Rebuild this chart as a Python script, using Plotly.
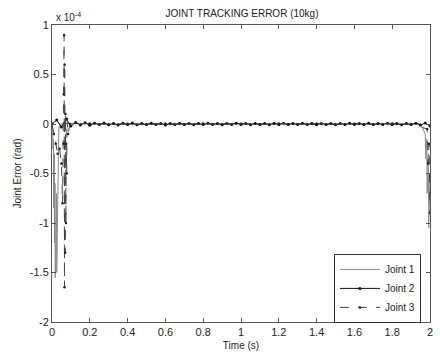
import plotly.graph_objects as go

# values in units of 1e-4 rad
t_joint1 = [0.000, 0.004, 0.005, 0.008, 0.009, 0.012, 0.013, 0.016, 0.017, 0.020,
            0.021, 0.024, 0.025, 0.028, 0.029, 0.032, 0.033, 0.036, 0.040, 0.100,
            0.500, 1.000, 1.500, 1.950, 1.975, 1.977, 1.983, 1.985, 1.991, 1.993, 2.000]
e_joint1 = [0.0, -0.05, -0.25, -0.15, -0.85, -0.30, -1.20, -0.60, -1.55, -0.90,
            -1.30, -0.70, -1.50, -1.00, -0.80, -0.40, -0.20, -0.05, 0.0, 0.005,
            -0.005, 0.003, 0.0, 0.0, -0.10, -0.35, -0.15, -0.70, -0.30, -1.05, -0.50]

t_joint2 = [0.000, 0.025, 0.050, 0.075, 0.100, 0.125, 0.150, 0.175, 0.200, 0.225,
            0.250, 0.275, 0.300, 0.325, 0.350, 0.375, 0.400, 0.425, 0.450, 0.475,
            0.500, 0.525, 0.550, 0.575, 0.600, 0.625, 0.650, 0.675, 0.700, 0.725,
            0.750, 0.775, 0.800, 0.825, 0.850, 0.875, 0.900, 0.925, 0.950, 0.975,
            1.000, 1.025, 1.050, 1.075, 1.100, 1.125, 1.150, 1.175, 1.200, 1.225,
            1.250, 1.275, 1.300, 1.325, 1.350, 1.375, 1.400, 1.425, 1.450, 1.475,
            1.500, 1.525, 1.550, 1.575, 1.600, 1.625, 1.650, 1.675, 1.700, 1.725,
            1.750, 1.775, 1.800, 1.825, 1.850, 1.875, 1.900, 1.925, 1.950, 1.975, 2.000]
e_joint2 = [0.00, 0.04, -0.03, 0.05, -0.02, 0.015, -0.01, 0.012, -0.012, 0.008,
            -0.006, 0.01, -0.008, 0.006, -0.01, 0.007, -0.005, 0.009, -0.007, 0.004,
            -0.006, 0.008, -0.004, 0.006, -0.009, 0.005, -0.006, 0.007, -0.004, 0.006,
            -0.008, 0.005, -0.005, 0.007, -0.006, 0.004, -0.007, 0.006, -0.005, 0.008,
            -0.004, 0.006, -0.007, 0.005, -0.006, 0.004, -0.008, 0.006, -0.005, 0.007,
            -0.004, 0.005, -0.006, 0.008, -0.005, 0.004, -0.007, 0.006, -0.004, 0.005,
            -0.008, 0.006, -0.005, 0.007, -0.006, 0.004, -0.005, 0.008, -0.006, 0.005,
            -0.004, 0.007, -0.006, 0.005, -0.008, 0.004, -0.006, 0.007, -0.01, 0.01, -0.02]

t_joint3 = [0.000, 0.010, 0.020, 0.030, 0.040, 0.050, 0.056, 0.060, 0.062, 0.064,
            0.066, 0.067, 0.070, 0.071, 0.074, 0.075, 0.078, 0.079, 0.085, 0.095,
            0.200, 0.300, 0.400, 0.500, 0.600, 0.700, 0.800, 0.900, 1.000, 1.100,
            1.200, 1.300, 1.400, 1.500, 1.600, 1.700, 1.800, 1.900, 1.985, 1.990,
            1.995, 2.000]
e_joint3 = [0.0, -0.10, -0.20, -0.30, -0.25, -0.40, -0.80, -0.20, 0.30, 0.90,
            -1.65, 0.60, -1.30, 0.10, -1.00, -0.20, -0.50, 0.05, -0.10, 0.0,
            0.005, -0.004, 0.003, -0.005, 0.004, -0.003, 0.005, -0.004, 0.003, -0.005,
            0.004, -0.003, 0.005, -0.004, 0.003, -0.005, 0.004, -0.003, -0.05, -0.40,
            -0.20, -0.90]

x_ticks = [0, 0.2, 0.4, 0.6, 0.8, 1, 1.2, 1.4, 1.6, 1.8, 2]
y_ticks = [-2, -1.5, -1, -0.5, 0, 0.5, 1]

fig = go.Figure()
fig.add_trace(go.Scatter(x=t_joint1, y=e_joint1, mode="lines", name="Joint 1",
                         line=dict(color="#8a8a8a", width=1)))
fig.add_trace(go.Scatter(x=t_joint2, y=e_joint2, mode="lines+markers", name="Joint 2",
                         line=dict(color="#111111", width=1),
                         marker=dict(size=3, color="#111111")))
fig.add_trace(go.Scatter(x=t_joint3, y=e_joint3, mode="lines+markers", name="Joint 3",
                         line=dict(color="#444444", width=1, dash="dash"),
                         marker=dict(size=2.5, color="#222222")))

axis_common = dict(showline=True, linecolor="#555555", linewidth=1, mirror="ticks",
                   ticks="inside", ticklen=4, tickcolor="#555555", showgrid=False,
                   zeroline=False, tickfont=dict(size=11, color="#222222"))

fig.update_layout(
    width=440, height=356,
    margin=dict(l=52, r=7, t=25, b=33),
    paper_bgcolor="white", plot_bgcolor="white",
    font=dict(family="Liberation Sans, Arial, sans-serif", size=11, color="#222222"),
    title=dict(text="JOINT TRACKING ERROR (10kg)", x=0.55, xanchor="center",
               y=0.962, yanchor="middle", font=dict(size=10)),
    xaxis=dict(range=[0, 2], tickvals=x_ticks, ticktext=[str(v) for v in x_ticks],
               title=dict(text="Time (s)", standoff=4, font=dict(size=10)), **axis_common),
    yaxis=dict(range=[-2, 1], tickvals=y_ticks, ticktext=[str(v) for v in y_ticks],
               title=dict(text="Joint Error (rad)", standoff=6, font=dict(size=10)),
               **axis_common),
    legend=dict(x=0.976, xanchor="right", y=-0.003, yanchor="bottom",
                bgcolor="white", bordercolor="#333333", borderwidth=1,
                font=dict(size=10), tracegroupgap=0, itemwidth=40),
    showlegend=True,
)
fig.add_annotation(text="x 10<sup>-4</sup>", xref="paper", yref="paper", x=0.005,
                   y=1.0, xanchor="left", yanchor="bottom", showarrow=False,
                   font=dict(size=10))

fig.write_html("out.html")
